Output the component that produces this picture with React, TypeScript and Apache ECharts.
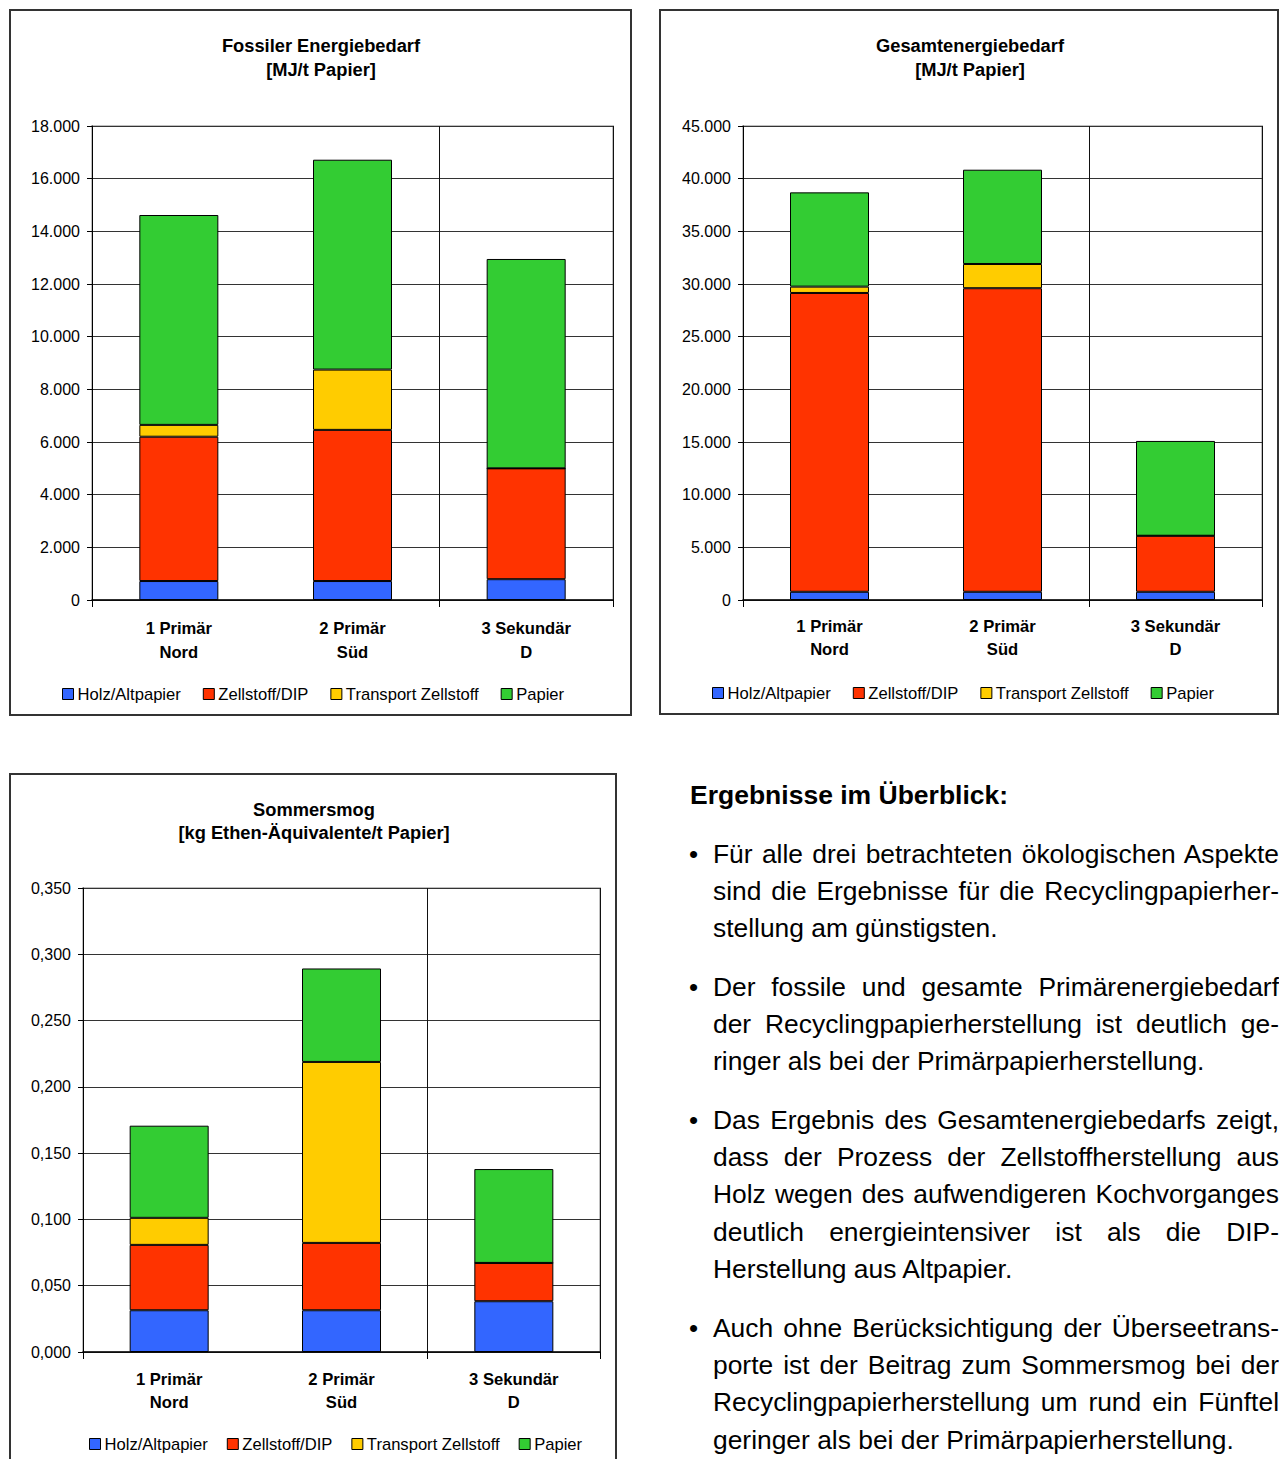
import React, { useEffect, useRef } from 'react';
import * as echarts from 'echarts';

const FONT = '"Liberation Sans", Arial, Helvetica, sans-serif';

const categories = ['1 Primär\nNord', '2 Primär\nSüd', '3 Sekundär\nD'];
const seriesNames = ['Holz/Altpapier', 'Zellstoff/DIP', 'Transport Zellstoff', 'Papier'];
const seriesColors = ['#3366FF', '#FF3300', '#FFCC00', '#33CC33'];

// Fossiler Energiebedarf [MJ/t Papier] (stack increments)
const fossilHolz = [720, 720, 790];
const fossilZellstoff = [5480, 5740, 4210];
const fossilTransport = [450, 2290, 0];
const fossilPapier = [7970, 7970, 7950];

// Gesamtenergiebedarf [MJ/t Papier]
const totalHolz = [780, 780, 780];
const totalZellstoff = [28370, 28820, 5320];
const totalTransport = [600, 2300, 0];
const totalPapier = [8950, 8950, 9000];

// Sommersmog [kg Ethen-Äquivalente/t Papier]
const smogHolz = [0.0315, 0.0315, 0.0383];
const smogZellstoff = [0.0493, 0.0508, 0.0289];
const smogTransport = [0.0204, 0.1365, 0];
const smogPapier = [0.0695, 0.0705, 0.0708];

const heading = 'Ergebnisse im Überblick:';
const paragraphs: string[][] = [
  [
    'Für alle drei betrachteten ökologischen Aspekte',
    'sind die Ergebnisse für die Recyclingpapierher-',
    'stellung am günstigsten.',
  ],
  [
    'Der fossile und gesamte Primärenergiebedarf',
    'der Recyclingpapierherstellung ist deutlich ge-',
    'ringer als bei der Primärpapierherstellung.',
  ],
  [
    'Das Ergebnis des Gesamtenergiebedarfs zeigt,',
    'dass der Prozess der Zellstoffherstellung aus',
    'Holz wegen des aufwendigeren Kochvorganges',
    'deutlich energieintensiver ist als die DIP-',
    'Herstellung aus Altpapier.',
  ],
  [
    'Auch ohne Berücksichtigung der Überseetrans-',
    'porte ist der Beitrag zum Sommersmog bei der',
    'Recyclingpapierherstellung um rund ein Fünftel',
    'geringer als bei der Primärpapierherstellung.',
  ],
];
const paragraphTops = [836, 969, 1102, 1310];

const fmtThousands = (v: number) => String(Math.round(v)).replace(/\B(?=(\d{3})+(?!\d))/g, '.');
const fmtDecimal = (v: number) => v.toFixed(3).replace('.', ',');

type Cfg = {
  title: string;
  titleTop: number;
  titleLH: number;
  grid: { left: number; top: number; width: number; height: number };
  max: number;
  interval: number;
  formatter: (v: number) => string;
  labelMargin: number;
  labelLH: number;
  legendLeft: number;
  legendTop: number;
  legendGap: number;
  data: number[][];
};

function buildOption(cfg: Cfg) {
  return {
    animation: false,
    textStyle: { fontFamily: FONT, color: '#000' },
    title: {
      text: cfg.title,
      left: 'center',
      top: cfg.titleTop,
      padding: 0,
      textStyle: { fontSize: 18.3, fontWeight: 'bold', lineHeight: cfg.titleLH, color: '#000', fontFamily: FONT },
    },
    legend: {
      data: seriesNames,
      left: cfg.legendLeft,
      top: cfg.legendTop,
      padding: 0,
      itemWidth: 11,
      itemHeight: 11,
      itemGap: cfg.legendGap,
      icon: 'rect',
      textStyle: { fontSize: 16.6, lineHeight: 20, color: '#000', fontFamily: FONT, padding: [0, 0, 0, -1] },
      itemStyle: { borderColor: '#000', borderWidth: 1 },
    },
    grid: {
      ...cfg.grid,
      show: true,
      borderColor: '#c0c0c0',
      borderWidth: 2,
      backgroundColor: 'transparent',
    },
    xAxis: {
      type: 'category',
      data: categories,
      boundaryGap: true,
      axisLine: { show: true, lineStyle: { color: '#000', width: 1.5 } },
      axisTick: { show: true, interval: 1, length: 7, lineStyle: { color: '#000' } },
      axisLabel: {
        interval: 0,
        margin: cfg.labelMargin,
        fontSize: 16.6,
        fontWeight: 'bold',
        lineHeight: cfg.labelLH,
        color: '#000',
        fontFamily: FONT,
      },
      splitLine: { show: true, interval: 1, lineStyle: { color: '#111', width: 1 } },
    },
    yAxis: {
      type: 'value',
      min: 0,
      max: cfg.max,
      interval: cfg.interval,
      axisLine: { show: true, lineStyle: { color: '#000', width: 1 } },
      axisTick: { show: true, length: 5, lineStyle: { color: '#000' } },
      axisLabel: { formatter: cfg.formatter, fontSize: 16, color: '#000', margin: 12, fontFamily: FONT },
      splitLine: { show: true, lineStyle: { color: '#333', width: 1 } },
    },
    series: seriesNames.map((n, i) => ({
      name: n,
      type: 'bar',
      stack: 'total',
      data: cfg.data[i],
      barWidth: 79,
      itemStyle: { color: seriesColors[i], borderColor: '#000', borderWidth: 1 },
    })),
  };
}

function Chart({ cfg, style }: { cfg: Cfg; style: React.CSSProperties }) {
  const ref = useRef<HTMLDivElement>(null);
  useEffect(() => {
    if (!ref.current) return;
    const chart = echarts.init(ref.current, undefined, { renderer: 'svg' });
    chart.setOption(buildOption(cfg) as any);
    return () => chart.dispose();
  }, []);
  return <div ref={ref} style={{ position: 'absolute', ...style }} />;
}

const fossilCfg: Cfg = {
  title: 'Fossiler Energiebedarf\n[MJ/t Papier]',
  titleTop: 33,
  titleLH: 24,
  grid: { left: 82, top: 126, width: 521, height: 474 },
  max: 18000,
  interval: 2000,
  formatter: fmtThousands,
  labelMargin: 16,
  labelLH: 24,
  legendLeft: 52,
  legendTop: 684,
  legendGap: 22,
  data: [fossilHolz, fossilZellstoff, fossilTransport, fossilPapier],
};

const totalCfg: Cfg = {
  title: 'Gesamtenergiebedarf\n[MJ/t Papier]',
  titleTop: 33,
  titleLH: 24,
  grid: { left: 82, top: 126, width: 519, height: 474 },
  max: 45000,
  interval: 5000,
  formatter: fmtThousands,
  labelMargin: 15,
  labelLH: 23,
  legendLeft: 51,
  legendTop: 683,
  legendGap: 22,
  data: [totalHolz, totalZellstoff, totalTransport, totalPapier],
};

const smogCfg: Cfg = {
  title: 'Sommersmog\n[kg Ethen-Äquivalente/t Papier]',
  titleTop: 23,
  titleLH: 23,
  grid: { left: 72, top: 113, width: 517, height: 464 },
  max: 0.35,
  interval: 0.05,
  formatter: fmtDecimal,
  labelMargin: 15.5,
  labelLH: 23,
  legendLeft: 78,
  legendTop: 659,
  legendGap: 19,
  data: [smogHolz, smogZellstoff, smogTransport, smogPapier],
};

const boxBorder = '2px solid #333';

export default function App() {
  return (
    <div
      style={{
        position: 'fixed',
        left: 0,
        top: 0,
        width: 1279,
        height: 1459,
        overflow: 'hidden',
        background: '#fff',
        fontFamily: FONT,
        color: '#000',
      }}
    >
      <Chart cfg={fossilCfg} style={{ left: 10, top: 0, width: 622, height: 716 }} />
      <Chart cfg={totalCfg} style={{ left: 661, top: 0, width: 618, height: 716 }} />
      <Chart cfg={smogCfg} style={{ left: 11, top: 775, width: 606, height: 684 }} />

      <div style={{ position: 'absolute', left: 9, top: 9, width: 623, height: 707, border: boxBorder, boxSizing: 'border-box', pointerEvents: 'none' }} />
      <div style={{ position: 'absolute', left: 659, top: 9, width: 620, height: 706, border: boxBorder, boxSizing: 'border-box', pointerEvents: 'none' }} />
      <div style={{ position: 'absolute', left: 9, top: 773, width: 608, height: 720, border: boxBorder, boxSizing: 'border-box', pointerEvents: 'none' }} />

      <div
        style={{
          position: 'absolute',
          left: 690,
          top: 777,
          fontWeight: 'bold',
          fontSize: 26.5,
          lineHeight: '37px',
          whiteSpace: 'nowrap',
        }}
      >
        {heading}
      </div>

      {paragraphs.map((lines, pi) => (
        <div
          key={pi}
          style={{
            position: 'absolute',
            left: 713,
            top: paragraphTops[pi],
            width: 566,
            fontSize: 26.4,
            lineHeight: '37.2px',
          }}
        >
          <span style={{ position: 'absolute', left: -24, top: 0, fontSize: 26 }}>•</span>
          {lines.map((ln, li) => (
            <div
              key={li}
              style={{
                textAlign: 'justify',
                textAlignLast: li === lines.length - 1 ? 'left' : 'justify',
              } as React.CSSProperties}
            >
              {ln}
            </div>
          ))}
        </div>
      ))}
    </div>
  );
}
